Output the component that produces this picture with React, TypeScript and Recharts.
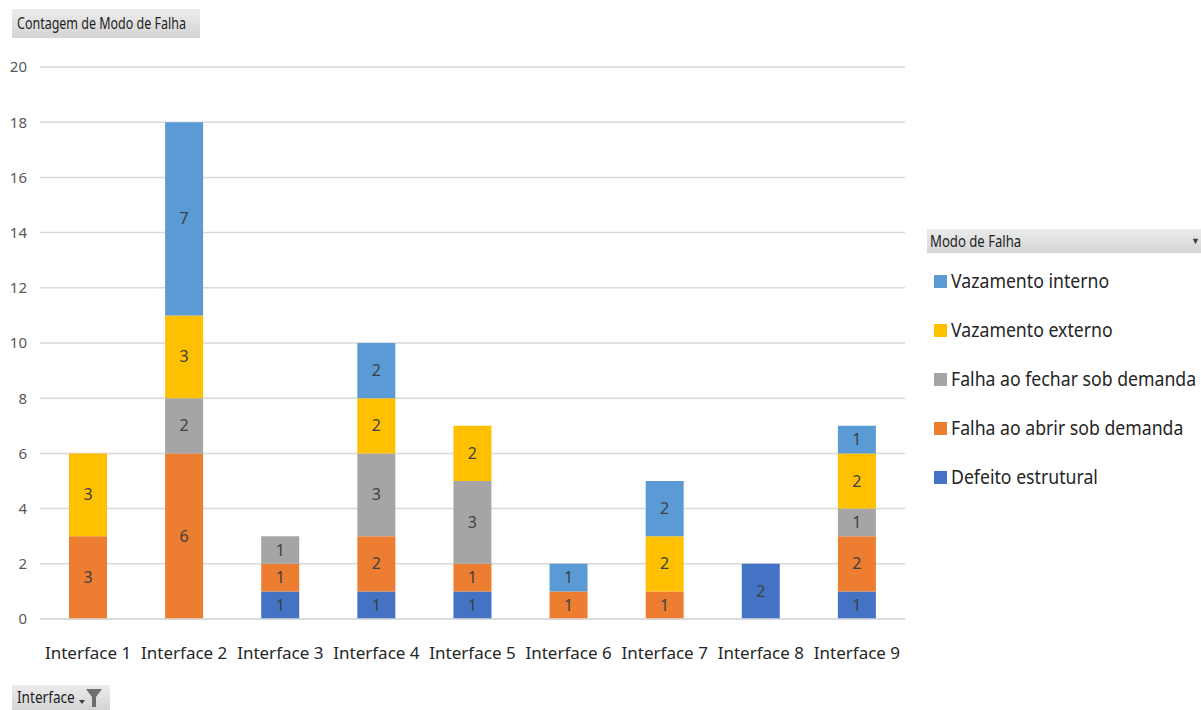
import { BarChart, Bar, XAxis, YAxis, CartesianGrid, LabelList } from 'recharts';

const interfaces = [
  'Interface 1', 'Interface 2', 'Interface 3', 'Interface 4', 'Interface 5',
  'Interface 6', 'Interface 7', 'Interface 8', 'Interface 9',
];

// contagem por modo de falha, na ordem das interfaces
const defeitoEstrutural = [0, 0, 1, 1, 1, 0, 0, 2, 1];
const falhaAbrir = [3, 6, 1, 2, 1, 1, 1, 0, 2];
const falhaFechar = [0, 2, 1, 3, 3, 0, 0, 0, 1];
const vazamentoExterno = [3, 3, 0, 2, 2, 0, 2, 0, 2];
const vazamentoInterno = [0, 7, 0, 2, 0, 1, 2, 0, 1];

const yTicks = [0, 2, 4, 6, 8, 10, 12, 14, 16, 18, 20];

const series = [
  { key: 'defeito', name: 'Defeito estrutural', color: '#4472C4', values: defeitoEstrutural },
  { key: 'abrir', name: 'Falha ao abrir sob demanda', color: '#ED7D31', values: falhaAbrir },
  { key: 'fechar', name: 'Falha ao fechar sob demanda', color: '#A5A5A5', values: falhaFechar },
  { key: 'externo', name: 'Vazamento externo', color: '#FFC000', values: vazamentoExterno },
  { key: 'interno', name: 'Vazamento interno', color: '#5B9BD5', values: vazamentoInterno },
];

const data = interfaces.map((name, i) => {
  const row: Record<string, string | number | null> = { name };
  series.forEach((s) => {
    row[s.key] = s.values[i] === 0 ? null : s.values[i];
  });
  return row;
});

const textFont = '"Noto Sans", "Open Sans", sans-serif';
const buttonBg = 'linear-gradient(#ececec, #d4d4d4)';

function FieldButton({ left, top, width, height, children }: any) {
  return (
    <div
      style={{
        position: 'absolute',
        left,
        top,
        width,
        height,
        background: buttonBg,
        fontFamily: textFont,
        fontSize: 16,
        color: '#1f1f1f',
        boxSizing: 'border-box',
        whiteSpace: 'nowrap',
      }}
    >
      {children}
    </div>
  );
}

function ModoLegend() {
  // legenda de cima para baixo na ordem inversa da pilha
  const items = [...series].reverse();
  return (
    <div style={{ position: 'absolute', left: 927, top: 229, width: 274, fontFamily: textFont }}>
      <div
        style={{
          height: 24,
          background: buttonBg,
          position: 'relative',
          fontSize: 16,
          color: '#1f1f1f',
        }}
      >
        <span
          style={{
            position: 'absolute',
            left: 3,
            top: 1,
            transform: 'scaleX(0.82)',
            transformOrigin: 'left center',
            whiteSpace: 'nowrap',
          }}
        >
          Modo de Falha
        </span>
        <span style={{ position: 'absolute', right: 1, top: 5, fontSize: 9, color: '#404040' }}>▼</span>
      </div>
      {items.map((s, i) => (
        <div
          key={s.key}
          style={{
            position: 'absolute',
            left: 7,
            top: 39 + i * 49,
            display: 'flex',
            alignItems: 'center',
            whiteSpace: 'nowrap',
            fontSize: 19,
            color: '#262626',
          }}
        >
          <span style={{ width: 13, height: 13, background: s.color, marginRight: 4, display: 'inline-block' }} />
          <span style={{ transform: 'scaleX(0.93)', transformOrigin: 'left center' }}>{s.name}</span>
        </div>
      ))}
    </div>
  );
}

export default function App() {
  return (
    <div style={{ position: 'fixed', left: 0, top: 0, width: 1201, height: 710, background: '#fff', overflow: 'hidden' }}>
      <BarChart
        width={1201}
        height={710}
        data={data}
        margin={{ top: 67, right: 296, bottom: 31, left: 0 }}
        barSize={38}
      >
        <CartesianGrid vertical={false} stroke="#D9D9D9" strokeWidth={1.5} />
        <XAxis
          dataKey="name"
          height={60}
          tickLine={false}
          axisLine={{ stroke: '#D9D9D9', strokeWidth: 1.5 }}
          tickSize={0}
          tickMargin={28}
          interval={0}
          tick={{ fontSize: 17, fill: '#262626', fontFamily: textFont }}
        />
        <YAxis
          width={40}
          domain={[0, 20]}
          ticks={yTicks}
          tickLine={false}
          axisLine={false}
          tickSize={0}
          tickMargin={13}
          tick={{ fontSize: 15, fill: '#595959', fontFamily: textFont }}
        />
        {series.map((s) => (
          <Bar key={s.key} dataKey={s.key} name={s.name} stackId="a" fill={s.color} isAnimationActive={false}>
            <LabelList
              dataKey={s.key}
              position="center"
              style={{ fontSize: 16, fill: '#404040', fontFamily: textFont }}
            />
          </Bar>
        ))}
      </BarChart>

      <ModoLegend />

      <FieldButton left={12} top={9} width={188} height={29}>
        <span
          style={{
            position: 'absolute',
            left: 5,
            top: 3,
            transform: 'scaleX(0.78)',
            transformOrigin: 'left center',
          }}
        >
          Contagem de Modo de Falha
        </span>
      </FieldButton>

      <FieldButton left={12} top={685} width={98} height={25}>
        <span
          style={{
            position: 'absolute',
            left: 5,
            top: 0,
            fontSize: 17,
            transform: 'scaleX(0.8)',
            transformOrigin: 'left center',
          }}
        >
          Interface
        </span>
        <svg width={30} height={22} style={{ position: 'absolute', left: 64, top: 2 }}>
          <path d="M3 13 L9 13 L6 17 Z" fill="#404040" />
          <path d="M10 2 L26 2 L20 10 L20 20 L16 20 L16 10 Z" fill="#6e6e6e" />
        </svg>
      </FieldButton>
    </div>
  );
}
